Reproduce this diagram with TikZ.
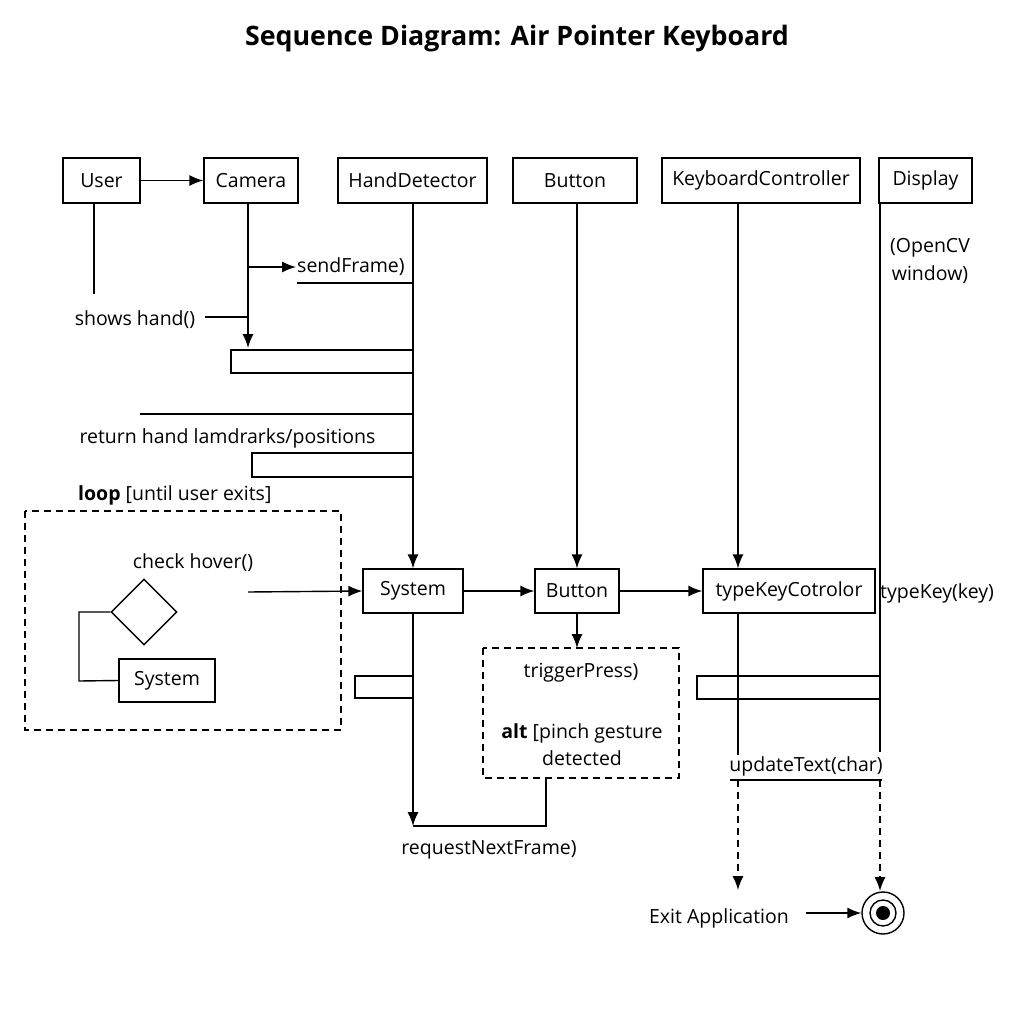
\documentclass[tikz,border=0pt]{standalone}
\usepackage{fontspec}
\setmainfont{Open Sans}
\usetikzlibrary{arrows.meta, shapes.geometric}
\tikzset{
  lifebox/.style = {draw, line width = 1.4pt, minimum height = 45pt, inner sep = 0pt},
  msg/.style = {line width = 1.4pt, -{Latex[length = 14pt, width = 11pt]}},
  wire/.style = {line width = 1.4pt},
  frag/.style = {line width = 1.4pt, dash pattern = on 7pt off 5pt},
  activ/.style = {draw, line width = 1.4pt}
}
\begin{document}
\begin{tikzpicture}[x = 1pt, y = -1pt, font = \fontsize{19.5}{23}\selectfont]
  \useasboundingbox[fill = white] (0, 0) rectangle (1024, 1024);
  \node[font = \fontsize{26.8}{30}\selectfont\bfseries] (title) at (517, 39)
  {Sequence Diagram: Air Pointer Keyboard};
  \node[lifebox, minimum width = 77pt] (user) at (101.5, 180.5) {User};
  \node[lifebox, minimum width = 94pt] (camera) at (251, 180.5) {Camera};
  \node[lifebox, minimum width = 149pt] (hand) at (412.5, 180.5) {HandDetector};
  \node[lifebox, minimum width = 124pt] (button) at (575, 180.5) {Button};
  \node[lifebox, minimum width = 198pt] (kbd) at (761, 180.5) {KeyboardController};
  \node[lifebox, minimum width = 93pt] (display) at (925.5, 180.5) {Display};
  \node[lifebox, minimum width = 100pt, minimum height = 44pt] (sys) at (413, 591) {System};
  \node[lifebox, minimum width = 84pt, minimum height = 44pt] (btn) at (577, 591) {Button};
  \node[lifebox, minimum width = 172pt, minimum height = 44pt] (tkc) at (789, 591) {typeKeyCotrolor};
  \node[lifebox, minimum width = 96pt, minimum height = 43pt] (small) at (167, 680.5) {System};
  \node[draw, diamond, line width = 1.4pt, minimum width = 66pt, minimum height = 66pt,
  inner sep = 0pt] (hover) at (144, 612) {};
  \node[draw, circle, line width = 1.4pt, minimum size = 42pt, inner sep = 0pt] (end) at (883, 913) {};
  \draw[line width = 1.4pt] (end) circle[radius = 13pt];
  \fill (end) circle[radius = 7pt];
  \coordinate (camlow) at (248, 348);
  \coordinate (userlow) at (94, 294);
  \coordinate (kbdlow) at (738, 755);
  \coordinate (displow) at (880, 752);
  \coordinate (reqcorner) at (413, 826);
  \coordinate (exitkbd) at (738, 890);
  \coordinate (exitdisp) at (880, 891);
  \draw[msg] (user) -- (camera);
  \draw[wire] (94, 0 |- user.south) -- (userlow);
  \draw[msg] (248, 0 |- camera.south) -- (camlow);
  \draw[msg] (hand.south -| sys.north) -- (sys.north);
  \draw[msg] (btn.north |- button.south) -- (btn.north);
  \draw[msg] (738, 0 |- kbd.south) -- (738, 0 |- tkc.north);
  \draw[wire] (880, 0 |- display.south) -- (displow);
  \draw[wire] (738, 0 |- tkc.south) -- (kbdlow);
  \draw[msg] (248, 267) -- (296, 267);
  \node[anchor = west, inner sep = 0pt] (send) at (297, 267) {sendFrame)};
  \draw[wire] (297, 283) -- (413, 283);
  \node (shows) at (135, 320) {shows hand()};
  \draw[wire] (205, 317) -- (248, 317);
  \draw[activ] (231, 350) rectangle (413, 373);
  \draw[wire] (140, 414) -- (413, 414);
  \node (ret) at (227.5, 438) {return hand lamdrarks/positions};
  \draw[activ] (252, 453) rectangle (413, 477);
  \node[anchor = west, inner sep = 0pt] (loop) at (78, 495) {\textbf{loop} [until user exits]};
  \draw[frag] (25, 511) rectangle (341, 730);
  \node (check) at (193, 563) {check hover()};
  \draw[wire] (hover.west) -- (79, 612) -- (79, 681) -- (small.west);
  \draw[msg] (248, 592) -- (sys.west);
  \draw[msg] (sys) -- (btn);
  \draw[msg] (btn) -- (tkc);
  \node[anchor = west, inner sep = 0pt] (tk) at (880, 593) {typeKey(key)};
  \node[align = center, font = \fontsize{19.5}{28}\selectfont] (opencv) at (930, 261) {(OpenCV\\window)};
  \draw[activ] (355, 676) rectangle (413, 698);
  \draw[msg] (sys.south) -- (reqcorner);
  \draw[wire] (reqcorner) -- (546, 826) -- (546, 778);
  \node (req) at (489, 850) {requestNextFrame)};
  \draw[frag] (483, 648) rectangle (679, 778);
  \draw[msg] (btn.south) -- (577, 648);
  \node (trig) at (581, 673) {triggerPress)};
  \node[align = center, font = \fontsize{19.5}{27}\selectfont] (alt) at (582, 745)
  {\textbf{alt} [pinch gesture\\detected};
  \draw[activ] (697, 676) rectangle (880, 699);
  \node (upd) at (806, 766) {updateText(char)};
  \draw[wire] (730, 780) -- (882, 780);
  \draw[msg, frag] (738, 780) -- (exitkbd);
  \draw[msg, frag] (880, 780) -- (exitdisp);
  \node (exit) at (719, 918) {Exit Application};
  \draw[msg] (806, 913) -- (end.west);
\end{tikzpicture}
\end{document}
